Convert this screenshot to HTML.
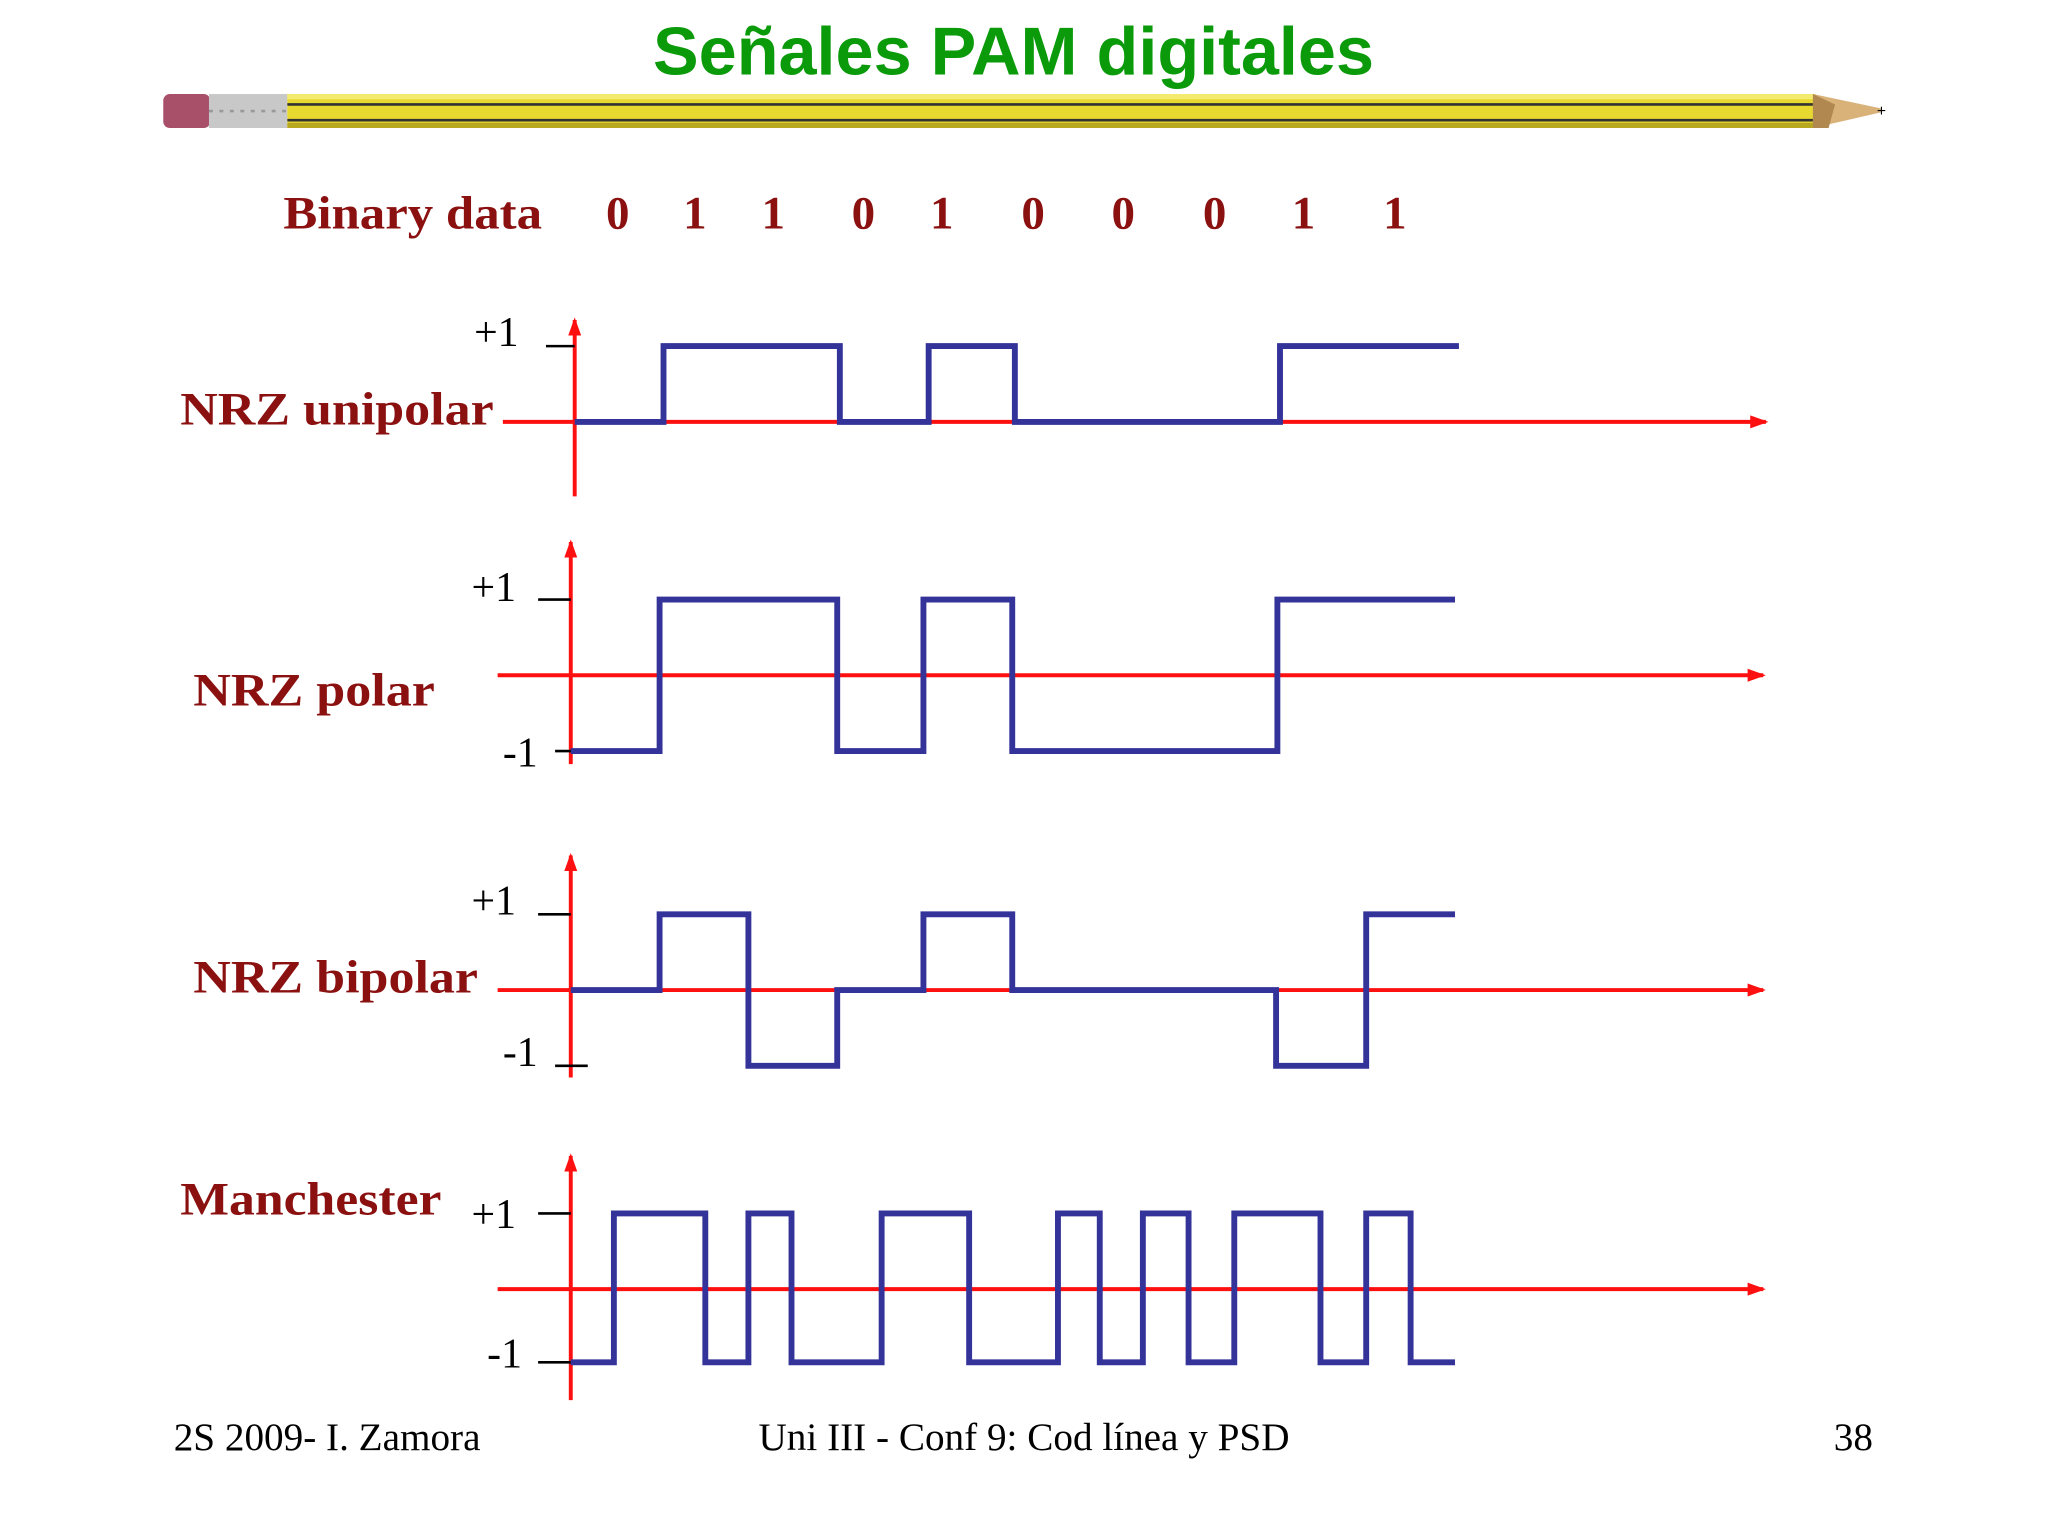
<!DOCTYPE html>
<html><head><meta charset="utf-8"><style>
html,body{margin:0;padding:0;background:#fff;}
svg{display:block;}
</style></head><body>
<svg width="2048" height="1536" viewBox="0 0 1568 1176" preserveAspectRatio="none" xmlns="http://www.w3.org/2000/svg">
<defs>
<marker id="ar" markerWidth="14" markerHeight="10" refX="12" refY="5" orient="auto" markerUnits="userSpaceOnUse">
<path d="M0,0 L14,5 L0,10 Z" fill="#ff1010"/></marker>
</defs>
<rect width="1568" height="1176" fill="#fff"/>
<text x="500" y="57" textLength="552" lengthAdjust="spacingAndGlyphs" font-family="Liberation Sans, sans-serif" font-weight="bold" font-size="52" fill="#0a9a0a">Señales PAM digitales</text>
<!-- pencil -->
<rect x="125" y="72" width="36" height="26" rx="5" fill="#a8506a"/>
<rect x="160" y="72" width="60" height="26" fill="#c8c8c8"/>
<line x1="160" y1="85" x2="220" y2="85" stroke="#999" stroke-width="2" stroke-dasharray="3,5"/>
<rect x="220" y="72" width="1170" height="26" fill="#e8d930"/>
<rect x="220" y="72" width="1170" height="4" fill="#f4ea70"/>
<line x1="220" y1="80" x2="1390" y2="80" stroke="#333" stroke-width="2"/>
<line x1="220" y1="92" x2="1390" y2="92" stroke="#333" stroke-width="2"/>
<rect x="220" y="94" width="1170" height="4" fill="#b8a820"/>
<polygon points="1388,72 1440,83 1440,86 1388,98" fill="#d9b27a"/>
<polygon points="1388,72 1405,80 1400,98 1388,98" fill="#b08850"/>
<text x="1437" y="89" font-family="Liberation Sans,sans-serif" font-size="12" fill="#000">+</text>
<g font-family="Liberation Serif, serif" font-weight="bold" font-size="36" fill="#8b1010">
<text x="217" y="175" textLength="198" lengthAdjust="spacingAndGlyphs">Binary data</text>
<text x="473" y="175" text-anchor="middle">0</text>
<text x="532" y="175" text-anchor="middle">1</text>
<text x="592" y="175" text-anchor="middle">1</text>
<text x="661" y="175" text-anchor="middle">0</text>
<text x="721" y="175" text-anchor="middle">1</text>
<text x="791" y="175" text-anchor="middle">0</text>
<text x="860" y="175" text-anchor="middle">0</text>
<text x="930" y="175" text-anchor="middle">0</text>
<text x="998" y="175" text-anchor="middle">1</text>
<text x="1068" y="175" text-anchor="middle">1</text>
<text x="138" y="325" textLength="240" lengthAdjust="spacingAndGlyphs">NRZ unipolar</text>
<text x="148" y="540" textLength="185" lengthAdjust="spacingAndGlyphs">NRZ polar</text>
<text x="148" y="760" textLength="218" lengthAdjust="spacingAndGlyphs">NRZ bipolar</text>
<text x="138" y="930" textLength="200" lengthAdjust="spacingAndGlyphs">Manchester</text>
</g>
<g stroke="#ff1010" stroke-width="3" fill="none" marker-end="url(#ar)">
<line x1="385" y1="323" x2="1352" y2="323"/>
<line x1="440" y1="380" x2="440" y2="245"/>
<line x1="381" y1="517" x2="1350" y2="517"/>
<line x1="437" y1="585" x2="437" y2="415"/>
<line x1="381" y1="758" x2="1350" y2="758"/>
<line x1="437" y1="825" x2="437" y2="655"/>
<line x1="381" y1="987" x2="1350" y2="987"/>
<line x1="437" y1="1072" x2="437" y2="885"/>
</g>
<g stroke="#000" stroke-width="2">
<line x1="418" y1="265" x2="440" y2="265"/>
<line x1="412" y1="459" x2="437" y2="459"/>
<line x1="425" y1="575" x2="448" y2="575"/>
<line x1="412" y1="700" x2="437" y2="700"/>
<line x1="425" y1="816" x2="450" y2="816"/>
<line x1="412" y1="929" x2="437" y2="929"/>
<line x1="412" y1="1043" x2="437" y2="1043"/>
</g>
<g font-family="Liberation Serif, serif" font-size="32" fill="#000">
<text x="363" y="265">+1</text>
<text x="361" y="460">+1</text>
<text x="385" y="587">-1</text>
<text x="361" y="700">+1</text>
<text x="385" y="816">-1</text>
<text x="361" y="940">+1</text>
<text x="373" y="1047">-1</text>
</g>
<g stroke="#333399" stroke-width="4.5" fill="none" stroke-linejoin="miter">
<polyline points="440,323 508,323 508,265 643,265 643,323 711,323 711,265 777,265 777,323 980,323 980,265 1117,265"/>
<polyline points="437,575 505,575 505,459 641,459 641,575 707,575 707,459 775,459 775,575 978,575 978,459 1114,459"/>
<polyline points="437,758 505,758 505,700 573,700 573,816 641,816 641,758 707,758 707,700 775,700 775,758 977,758 977,816 1046,816 1046,700 1114,700"/>
<polyline points="437,1043 470,1043 470,929 540,929 540,1043 573,1043 573,929 606,929 606,1043 675,1043 675,929 742,929 742,1043 810,1043 810,929 842,929 842,1043 875,1043 875,929 910,929 910,1043 945,1043 945,929 1011,929 1011,1043 1046,1043 1046,929 1080,929 1080,1043 1114,1043"/>
</g>
<g font-family="Liberation Serif, serif" font-size="30" fill="#000">
<text x="133" y="1110">2S 2009- I. Zamora</text>
<text x="784" y="1110" text-anchor="middle">Uni III - Conf 9: Cod línea y PSD</text>
<text x="1434" y="1110" text-anchor="end">38</text>
</g>
</svg>
</body></html>
